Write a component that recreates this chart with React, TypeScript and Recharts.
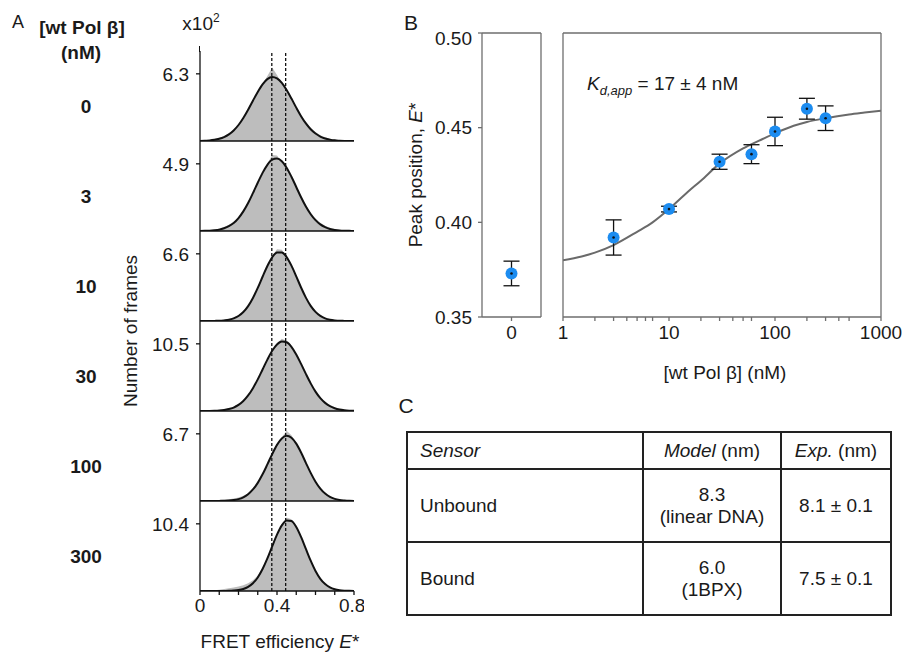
import React from 'react';
import { ComposedChart, Area, Line, Scatter, ErrorBar, XAxis, YAxis, ReferenceLine } from 'recharts';

const FONT = '"Liberation Sans", Arial, Helvetica, sans-serif';

// ---- panel A: FRET histograms (x10^2 frames) ----
const concLabels = ['0', '3', '10', '30', '100', '300'];
const peakTicks = [6.3, 4.9, 6.6, 10.5, 6.7, 10.4];
const eGrid = [0, 0.025, 0.05, 0.075, 0.1, 0.125, 0.15, 0.175, 0.2, 0.225, 0.25, 0.275, 0.3, 0.325, 0.35, 0.375,
  0.4, 0.425, 0.45, 0.475, 0.5, 0.525, 0.55, 0.575, 0.6, 0.625, 0.65, 0.675, 0.7, 0.725, 0.75, 0.775, 0.8];

const hist0 = [0.02, 0.05, 0.1, 0.18, 0.3, 0.45, 0.7, 1.05, 1.55, 2.05, 2.85, 3.85, 4.7, 5.35, 6.1, 6.9, 6.2, 5.4, 4.7, 4.0, 3.2, 2.45, 1.8, 1.25, 0.85, 0.55, 0.35, 0.22, 0.12, 0.06, 0.03, 0.01, 0];
const hist3 = [0.01, 0.03, 0.06, 0.1, 0.18, 0.3, 0.45, 0.68, 1.0, 1.4, 1.95, 2.65, 3.45, 4.15, 4.9, 5.55, 5.5, 5.05, 4.6, 3.95, 3.25, 2.55, 1.9, 1.35, 0.92, 0.6, 0.38, 0.24, 0.14, 0.08, 0.04, 0.02, 0];
const hist10 = [0, 0.01, 0.02, 0.04, 0.07, 0.12, 0.2, 0.35, 0.58, 0.92, 1.45, 2.2, 3.2, 4.3, 5.45, 6.35, 7.05, 7.0, 6.35, 5.45, 4.4, 3.3, 2.35, 1.55, 0.98, 0.58, 0.32, 0.17, 0.09, 0.04, 0.02, 0.01, 0];
const hist30 = [0.01, 0.03, 0.05, 0.09, 0.16, 0.28, 0.45, 0.72, 1.1, 1.65, 2.45, 3.55, 4.9, 6.4, 8.0, 9.5, 10.6, 11.3, 11.0, 10.1, 8.9, 7.4, 5.85, 4.4, 3.1, 2.1, 1.35, 0.82, 0.48, 0.26, 0.14, 0.07, 0.03];
const hist100 = [0, 0.01, 0.02, 0.04, 0.07, 0.12, 0.18, 0.26, 0.36, 0.52, 0.78, 1.2, 1.85, 2.68, 3.65, 4.65, 5.6, 6.35, 7.0, 6.55, 5.75, 4.85, 3.82, 2.85, 1.98, 1.3, 0.8, 0.46, 0.25, 0.13, 0.06, 0.03, 0.01];
const hist300 = [0, 0.02, 0.05, 0.1, 0.18, 0.3, 0.42, 0.55, 0.7, 0.9, 1.2, 1.65, 2.4, 3.55, 5.1, 6.95, 8.75, 10.3, 11.4, 11.1, 10.0, 8.4, 6.55, 4.75, 3.15, 1.95, 1.12, 0.6, 0.3, 0.15, 0.07, 0.03, 0.01];

// gaussian fit curves
const fit0 = [0.01, 0.03, 0.05, 0.11, 0.21, 0.37, 0.62, 0.99, 1.5, 2.16, 2.94, 3.78, 4.6, 5.31, 5.8, 6.0, 5.87, 5.45, 4.78, 3.98, 3.13, 2.33, 1.65, 1.1, 0.7, 0.42, 0.24, 0.13, 0.06, 0.03, 0.01, 0, 0];
const fit3 = [0, 0.01, 0.02, 0.05, 0.1, 0.2, 0.35, 0.58, 0.94, 1.43, 2.04, 2.76, 3.52, 4.24, 4.83, 5.21, 5.29, 5.09, 4.62, 3.96, 3.21, 2.46, 1.78, 1.22, 0.79, 0.48, 0.28, 0.15, 0.08, 0.04, 0.02, 0.01, 0];
const fit10 = [0, 0, 0, 0.01, 0.02, 0.06, 0.12, 0.26, 0.49, 0.88, 1.46, 2.26, 3.25, 4.35, 5.41, 6.26, 6.73, 6.74, 6.28, 5.44, 4.39, 3.29, 2.3, 1.49, 0.9, 0.5, 0.26, 0.13, 0.06, 0.02, 0.01, 0, 0];
const fit30 = [0, 0.01, 0.01, 0.03, 0.07, 0.15, 0.3, 0.54, 0.95, 1.56, 2.43, 3.57, 4.95, 6.49, 8.03, 9.41, 10.41, 10.88, 10.74, 10.03, 8.84, 7.36, 5.8, 4.32, 3.03, 2.01, 1.27, 0.75, 0.42, 0.22, 0.11, 0.05, 0.02];
const fit100 = [0, 0, 0, 0, 0.01, 0.02, 0.04, 0.09, 0.19, 0.37, 0.68, 1.15, 1.81, 2.66, 3.65, 4.68, 5.6, 6.24, 6.5, 6.31, 5.72, 4.84, 3.81, 2.81, 1.93, 1.24, 0.74, 0.41, 0.21, 0.1, 0.05, 0.02, 0.01];
const fit300 = [0, 0, 0, 0, 0, 0.01, 0.02, 0.06, 0.14, 0.31, 0.64, 1.21, 2.1, 3.4, 5.04, 6.9, 8.72, 10.16, 10.93, 10.84, 9.92, 8.37, 6.52, 4.69, 3.1, 1.89, 1.07, 0.56, 0.27, 0.12, 0.05, 0.02, 0.01];

const hists = [hist0, hist3, hist10, hist30, hist100, hist300];
const fits = [fit0, fit3, fit10, fit30, fit100, fit300];
const fretTicks = [0, 0.1, 0.2, 0.3, 0.4, 0.5, 0.6, 0.7, 0.8];
const fretLabelled = [0, 0.4, 0.8];
const dashedE = [0.373, 0.445];

// ---- panel B: peak position vs [wt Pol beta] ----
const concB = [3, 10, 30, 60, 100, 200, 300];
const peakB = [0.392, 0.407, 0.432, 0.436, 0.448, 0.46, 0.455];
const errB = [0.0093, 0.0015, 0.004, 0.005, 0.0075, 0.0055, 0.0065];
const zeroPeak = [0.373];
const zeroErr = [0.0065];
const fitConc = [1, 1.5, 2, 3, 5, 7, 10, 15, 20, 30, 50, 70, 100, 150, 200, 300, 500, 700, 1000];
const fitPeak = [0.38, 0.382, 0.384, 0.388, 0.395, 0.4, 0.407, 0.416, 0.422, 0.431, 0.439, 0.443, 0.447, 0.451, 0.453, 0.455, 0.457, 0.458, 0.459];
const peakTicksB = [0.35, 0.4, 0.45, 0.5];
const logTicks = [1, 2, 3, 4, 5, 6, 7, 8, 9, 10, 20, 30, 40, 50, 60, 70, 80, 90, 100, 200, 300, 400, 500, 600, 700, 800, 900, 1000];
const logLabelled = [1, 10, 100, 1000];

// ---- panel C: table ----
const sensors = ['Unbound', 'Bound'];
const modelVals = ['8.3', '6.0'];
const modelRefs = ['(linear DNA)', '(1BPX)'];
const expVals = ['8.1 ± 0.1', '7.5 ± 0.1'];

const panelTop = [51, 141, 231, 321, 411, 501];
const AX = '#6e6e6e';

const Txt = ({ x, y, size = 19, bold = false, children, rotate = false }: any) => (
  <div
    style={{
      position: 'absolute', left: x, top: y, fontSize: size, fontWeight: bold ? 700 : 400,
      lineHeight: 1, whiteSpace: 'nowrap', color: '#1a1a1a',
      transform: `translate(-50%, -50%)${rotate ? ' rotate(-90deg)' : ''}`,
    }}
  >
    {children}
  </div>
);

const HistPanel = ({ i }: { i: number }) => {
  const last = i === 5;
  const rows = eGrid.map((x, k) => ({ x, h: hists[i][k], f: fits[i][k] }));
  const axH = last ? 34 : 6;
  return (
    <div style={{ position: 'absolute', left: 140, top: panelTop[i] }}>
      <ComposedChart width={224} height={90 + axH} data={rows} margin={{ top: 0, right: 10, bottom: 0, left: 0 }}>
        <XAxis
          dataKey="x" type="number" domain={[0, 0.8]} ticks={fretTicks} height={axH}
          tick={last ? { fill: '#1a1a1a', fontSize: 19 } : false}
          tickFormatter={(v: number) => (fretLabelled.includes(v) ? String(v) : '')}
          tickSize={4} tickMargin={4} stroke="#111" strokeWidth={1.3} allowDataOverflow
        />
        <YAxis
          type="number" domain={[0, peakTicks[i] * 1.34]} ticks={[peakTicks[i]]} width={60}
          tickFormatter={(v: number) => v.toFixed(1)} tick={{ fill: '#1a1a1a', fontSize: 19 }}
          tickSize={4} tickMargin={7} stroke="#111" strokeWidth={1.3} allowDataOverflow
        />
        <Area dataKey="h" type="linear" fill="#bdbdbd" fillOpacity={1} stroke="none" isAnimationActive={false} />
        {dashedE.map((e) => (
          <ReferenceLine key={e} x={e} stroke="#111" strokeDasharray="3 2" strokeWidth={1.3} />
        ))}
        <Line dataKey="f" type="monotone" stroke="#111" strokeWidth={2} dot={false} isAnimationActive={false} />
      </ComposedChart>
    </div>
  );
};

const PointShape = (p: any) => (
  <g>
    <circle cx={p.cx} cy={p.cy} r={6} fill="#1c8cf0" />
    <circle cx={p.cx} cy={p.cy} r={1.3} fill="#111" />
  </g>
);

const boxAxes = (xProps: any, showYLabels: boolean, yWidth: number) => [
  <XAxis key="xb" xAxisId="b" orientation="bottom" dataKey="c" type="number" height={30} tickSize={4} tickMargin={5}
    stroke={AX} strokeWidth={1.3} tick={{ fill: '#1a1a1a', fontSize: 19 }} allowDataOverflow {...xProps} />,
  <XAxis key="xt" xAxisId="t" orientation="top" dataKey="c" type="number" height={6} tickSize={4} tick={false}
    stroke={AX} strokeWidth={1.3} allowDataOverflow {...xProps} />,
  <YAxis key="yl" yAxisId="l" dataKey="E" type="number" domain={[0.35, 0.5]} ticks={peakTicksB} width={yWidth}
    tickSize={4} tickMargin={6} stroke={AX} strokeWidth={1.3}
    tick={showYLabels ? { fill: '#1a1a1a', fontSize: 19 } : false}
    tickFormatter={(v: number) => v.toFixed(2)} allowDataOverflow />,
  <YAxis key="yr" yAxisId="r" orientation="right" type="number" domain={[0.35, 0.5]} ticks={peakTicksB} width={6}
    tickSize={4} tick={false} stroke={AX} strokeWidth={1.3} allowDataOverflow />,
];

const cell = { border: '2px solid #222', padding: '0 4px', textAlign: 'center' as const };

export default function App() {
  const zeroRows = zeroPeak.map((E, k) => ({ c: 0, E, err: zeroErr[k] }));
  const pointRows = concB.map((c, k) => ({ c, E: peakB[k], err: errB[k] }));
  const fitRows = fitConc.map((c, k) => ({ c, E: fitPeak[k] }));

  return (
    <div style={{ position: 'absolute', left: 0, top: 0, width: 908, height: 652, background: '#fff', fontFamily: FONT, overflow: 'hidden' }}>
      {/* panel A */}
      <Txt x={18} y={22} size={18}>A</Txt>
      <Txt x={82} y={27} bold>[wt Pol β]</Txt>
      <Txt x={81} y={52} bold>(nM)</Txt>
      <Txt x={201} y={22}>x10<sup style={{ fontSize: 12, verticalAlign: 8 }}>2</sup></Txt>
      {concLabels.map((c, i) => (
        <Txt key={c} x={86} y={panelTop[i] + 55} bold>{c}</Txt>
      ))}
      {concLabels.map((c, i) => <HistPanel key={c} i={i} />)}
      <div style={{ position: 'absolute', left: 199, top: 46, width: 0, height: 6, borderLeft: '1.3px solid #111' }} />
      <Txt x={130} y={331} rotate>Number of frames</Txt>
      <Txt x={280} y={641}>FRET efficiency <i>E</i>*</Txt>

      {/* panel B */}
      <Txt x={411} y={22} size={21}>B</Txt>
      <Txt x={415} y={175} rotate>Peak position, <i>E</i>*</Txt>
      <div style={{ position: 'absolute', left: 412, top: 27 }}>
        <ComposedChart width={135} height={320} margin={{ top: 0, right: 0, bottom: 0, left: 0 }}>
          {boxAxes({ domain: [-1, 1], ticks: [0] }, true, 70)}
          <Scatter xAxisId="b" yAxisId="l" data={zeroRows} dataKey="E" shape={PointShape} isAnimationActive={false}>
            <ErrorBar dataKey="err" direction="y" width={8} stroke="#111" strokeWidth={1.3} isAnimationActive={false} />
          </Scatter>
        </ComposedChart>
      </div>
      <div style={{ position: 'absolute', left: 553, top: 27 }}>
        <ComposedChart width={354} height={320} margin={{ top: 0, right: 20, bottom: 0, left: 0 }}>
          {boxAxes({
            domain: [1, 1000], scale: 'log', ticks: logTicks,
            tickFormatter: (v: number) => (logLabelled.includes(v) ? String(v) : ''),
          }, false, 10)}
          <Line xAxisId="b" yAxisId="l" data={fitRows} dataKey="E" type="monotone" stroke="#6a6a6a" strokeWidth={2}
            dot={false} isAnimationActive={false} />
          <Scatter xAxisId="b" yAxisId="l" data={pointRows} dataKey="E" shape={PointShape} isAnimationActive={false}>
            <ErrorBar dataKey="err" direction="y" width={8} stroke="#111" strokeWidth={1.3} isAnimationActive={false} />
          </Scatter>
        </ComposedChart>
      </div>
      <div style={{ position: 'absolute', left: 587, top: 74, fontSize: 19, lineHeight: 1, whiteSpace: 'nowrap', color: '#1a1a1a' }}>
        <i>K</i><sub style={{ fontSize: 13, fontStyle: 'italic' }}>d,app</sub> = 17 ± 4 nM
      </div>
      <Txt x={725} y={372}>[wt Pol β] (nM)</Txt>

      {/* panel C */}
      <Txt x={406} y={405} size={21}>C</Txt>
      <table style={{ position: 'absolute', left: 406, top: 431, width: 486, borderCollapse: 'collapse', fontSize: 19, color: '#1a1a1a', lineHeight: 1.12 }}>
        <tbody>
          <tr style={{ height: 37 }}>
            <td style={{ ...cell, padding: '0 12px', width: 210, textAlign: 'left' }}><i>Sensor</i></td>
            <td style={{ ...cell, width: 128 }}><i>Model</i> (nm)</td>
            <td style={cell}><i>Exp.</i> (nm)</td>
          </tr>
          {sensors.map((s, k) => (
            <tr key={s} style={{ height: 73 }}>
              <td style={{ ...cell, padding: '0 12px', textAlign: 'left' }}>{s}</td>
              <td style={cell}>{modelVals[k]}<br />{modelRefs[k]}</td>
              <td style={cell}>{expVals[k]}</td>
            </tr>
          ))}
        </tbody>
      </table>
    </div>
  );
}
